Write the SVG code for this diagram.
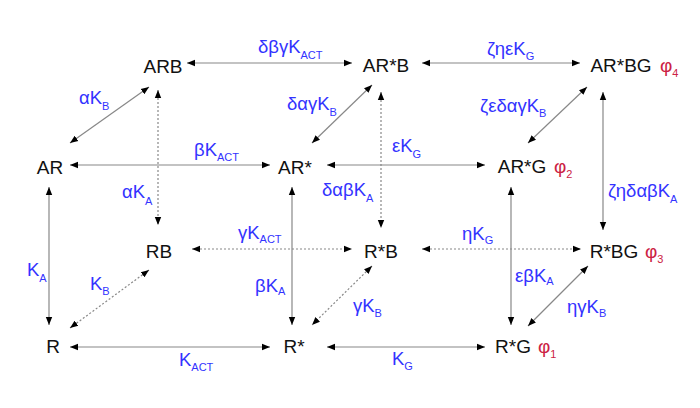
<svg xmlns="http://www.w3.org/2000/svg" width="700" height="408" viewBox="0 0 700 408">
<defs>
<marker id="ah" viewBox="0 0 8 8" refX="8" refY="4" markerWidth="8" markerHeight="8" markerUnits="userSpaceOnUse" orient="auto-start-reverse">
<path d="M0,0.8 L8,4 L0,7.2 Z" fill="#000"/>
</marker>
<style>
.n{font-family:"Liberation Sans",Arial,sans-serif;font-size:19px;fill:#111;text-anchor:middle}
.l{font-family:"Liberation Sans",Arial,sans-serif;font-size:18.5px;fill:#3333ff}
.p{font-family:"Liberation Sans",Arial,sans-serif;font-size:19px;fill:#cc2244}
.s{font-size:11px}
.c{stroke:#888;stroke-width:1.2;fill:none;marker-start:url(#ah);marker-end:url(#ah)}
.d{stroke-dasharray:2,2}
</style>
</defs>
<rect width="700" height="408" fill="#fff"/>
<g id="connectors">
<line class="c" x1="187" y1="63" x2="352" y2="63"/>
<line class="c" x1="422" y1="63" x2="580" y2="63"/>
<line class="c" x1="149" y1="87" x2="70" y2="143"/>
<line class="c d" x1="158" y1="90" x2="158" y2="225"/>
<line class="c" x1="70" y1="165" x2="270" y2="165"/>
<line class="c" x1="372" y1="85" x2="312" y2="143"/>
<line class="c" x1="327" y1="165" x2="485" y2="165"/>
<line class="c d" x1="381" y1="92" x2="381" y2="228"/>
<line class="c" x1="587" y1="87" x2="528" y2="143"/>
<line class="c" x1="603" y1="92" x2="603" y2="230"/>
<line class="c" x1="49" y1="187" x2="49" y2="325"/>
<line class="c" x1="292" y1="187" x2="292" y2="325"/>
<line class="c" x1="511" y1="187" x2="511" y2="325"/>
<line class="c d" x1="192" y1="249" x2="352" y2="249"/>
<line class="c d" x1="422" y1="249" x2="581" y2="249"/>
<line class="c d" x1="149" y1="270" x2="70" y2="328"/>
<line class="c d" x1="372" y1="266" x2="312" y2="325"/>
<line class="c" x1="588" y1="266" x2="528" y2="326"/>
<line class="c" x1="70" y1="347" x2="270" y2="347"/>
<line class="c" x1="327" y1="347" x2="485" y2="347"/>
</g>
<g id="ARB"><text class="n" x="163" y="73">ARB</text></g>
<g id="ARsB"><text class="n" x="386" y="72">AR*B</text></g>
<g id="ARsBG"><text class="n" x="621" y="72">AR*BG</text><text class="p" x="660" y="72">φ<tspan class="s" dy="5">4</tspan></text></g>
<g id="AR"><text class="n" x="50" y="174">AR</text></g>
<g id="ARs"><text class="n" x="295" y="174">AR*</text></g>
<g id="ARsG"><text class="n" x="522" y="173">AR*G</text><text class="p" x="554" y="173">φ<tspan class="s" dy="5">2</tspan></text></g>
<g id="RB"><text class="n" x="159" y="258">RB</text></g>
<g id="RsB"><text class="n" x="381" y="258">R*B</text></g>
<g id="RsBG"><text class="n" x="614" y="258">R*BG</text><text class="p" x="645" y="258">φ<tspan class="s" dy="5">3</tspan></text></g>
<g id="R"><text class="n" x="53" y="353">R</text></g>
<g id="Rs"><text class="n" x="294" y="353">R*</text></g>
<g id="RsG"><text class="n" x="513" y="353">R*G</text><text class="p" x="538" y="353">φ<tspan class="s" dy="5">1</tspan></text></g>
<g id="labels">
<text class="l" x="258" y="53">δβγK<tspan class="s" dy="6">ACT</tspan></text>
<text class="l" x="487" y="55">ζηεK<tspan class="s" dy="5">G</tspan></text>
<text class="l" x="79" y="104">αK<tspan class="s" dy="6">B</tspan></text>
<text class="l" x="287" y="110">δαγK<tspan class="s" dy="6">B</tspan></text>
<text class="l" x="480" y="112">ζεδαγK<tspan class="s" dy="5">B</tspan></text>
<text class="l" x="194" y="156">βK<tspan class="s" dy="5">ACT</tspan></text>
<text class="l" x="392" y="152">εK<tspan class="s" dy="6">G</tspan></text>
<text class="l" x="122" y="198">αK<tspan class="s" dy="7">A</tspan></text>
<text class="l" x="322" y="196">δαβK<tspan class="s" dy="6">A</tspan></text>
<text class="l" x="608" y="197">ζηδαβK<tspan class="s" dy="6">A</tspan></text>
<text class="l" x="238" y="239">γK<tspan class="s" dy="4">ACT</tspan></text>
<text class="l" x="462" y="240">ηK<tspan class="s" dy="4">G</tspan></text>
<text class="l" x="27" y="276">K<tspan class="s" dy="6">A</tspan></text>
<text class="l" x="90" y="290">K<tspan class="s" dy="5">B</tspan></text>
<text class="l" x="255" y="292">βK<tspan class="s" dy="3">A</tspan></text>
<text class="l" x="515" y="282">εβK<tspan class="s" dy="3">A</tspan></text>
<text class="l" x="353" y="312">γK<tspan class="s" dy="5">B</tspan></text>
<text class="l" x="567" y="313">ηγK<tspan class="s" dy="4">B</tspan></text>
<text class="l" x="179" y="366">K<tspan class="s" dy="5">ACT</tspan></text>
<text class="l" x="392" y="365">K<tspan class="s" dy="5">G</tspan></text>
</g>
</svg>
